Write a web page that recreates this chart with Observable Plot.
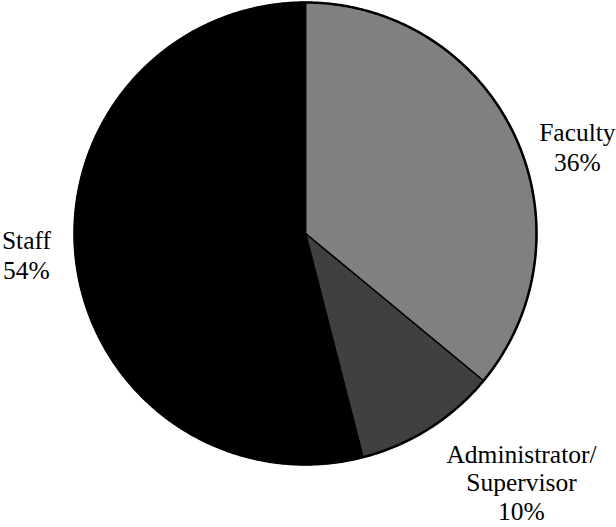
<!DOCTYPE html>
<html>
<head>
<meta charset="utf-8">
<script src="https://cdn.jsdelivr.net/npm/d3@7"></script>
<script src="https://cdn.jsdelivr.net/npm/@observablehq/plot@0.6"></script>
<style>
  html, body { margin: 0; padding: 0; background: #fff; }
  #chart svg { display: block; }
</style>
</head>
<body>
<div id="chart"></div>
<script>
// Share of respondents by role (percent), clockwise from 12 o'clock
const categories = ["Faculty", "Administrator/Supervisor", "Staff"];
const shares = [36, 10, 54];
const labelLines = ["Faculty", "Administrator/\nSupervisor", "Staff"];

// Slice shades
const shades = ["#808080", "#404040", "#000000"];

// Where each label sits, in pie-radius units from the centre (y up)
const labelAnchor = {
  "Faculty": [1.177, 0.494],
  "Administrator/Supervisor": [0.935, -0.905],
  "Staff": [-1.208, 0.026]
};

const table = categories.map((c, i) => ({category: c, share: shares[i], label: labelLines[i]}));

// d3.pie angles: 0 at top, increasing clockwise
const arcs = d3.pie().sort(null).value(d => d.share)(table);

// Each slice becomes a closed polygon in unit-circle coordinates
const step = Math.PI / 360;
const slicePoints = arcs.flatMap(a => {
  const pts = [{category: a.data.category, x: 0, y: 0}];
  const n = Math.max(2, Math.ceil((a.endAngle - a.startAngle) / step));
  for (let k = 0; k <= n; ++k) {
    const t = a.startAngle + (a.endAngle - a.startAngle) * k / n;
    pts.push({category: a.data.category, x: Math.sin(t), y: Math.cos(t)});
  }
  pts.push({category: a.data.category, x: 0, y: 0});
  return pts;
});

const rim = d3.range(0, 721).map(k => {
  const t = k * step;
  return {x: Math.sin(t), y: Math.cos(t)};
});

const labels = table.map(d => ({
  category: d.category,
  lines: d.label.split("\n").length + 1,
  x: labelAnchor[d.category][0],
  y: labelAnchor[d.category][1],
  text: `${d.label}\n${d.share}%`
}));

const textStyle = {
  x: "x", y: "y", text: "text",
  lineAnchor: "top",
  textAnchor: "middle",
  fontFamily: "'Liberation Serif', 'Times New Roman', serif",
  fontSize: 25.5,
  fill: "#000"
};

const chart = Plot.plot({
  width: 616,
  height: 527,
  margin: 0,
  style: {background: "#fff", overflow: "visible"},
  x: {domain: [-1, 1], range: [74, 536], axis: null},
  y: {domain: [-1, 1], range: [464, 2], axis: null},
  color: {type: "ordinal", domain: categories, range: shades},
  marks: [
    Plot.line(slicePoints, {
      x: "x", y: "y", z: "category",
      fill: "category",
      stroke: "#000", strokeWidth: 1.5, strokeLinejoin: "round",
      curve: "linear"
    }),
    Plot.line(rim, {x: "x", y: "y", stroke: "#000", strokeWidth: 2.5, fill: "none"}),
    // two-line labels
    Plot.text(labels.filter(d => d.lines === 2), {...textStyle, lineHeight: 1.18}),
    // the three-line label at the bottom edge is set a little tighter
    Plot.text(labels.filter(d => d.lines === 3), {...textStyle, lineHeight: 1.12})
  ]
});

document.getElementById("chart").append(chart);
</script>
</body>
</html>
